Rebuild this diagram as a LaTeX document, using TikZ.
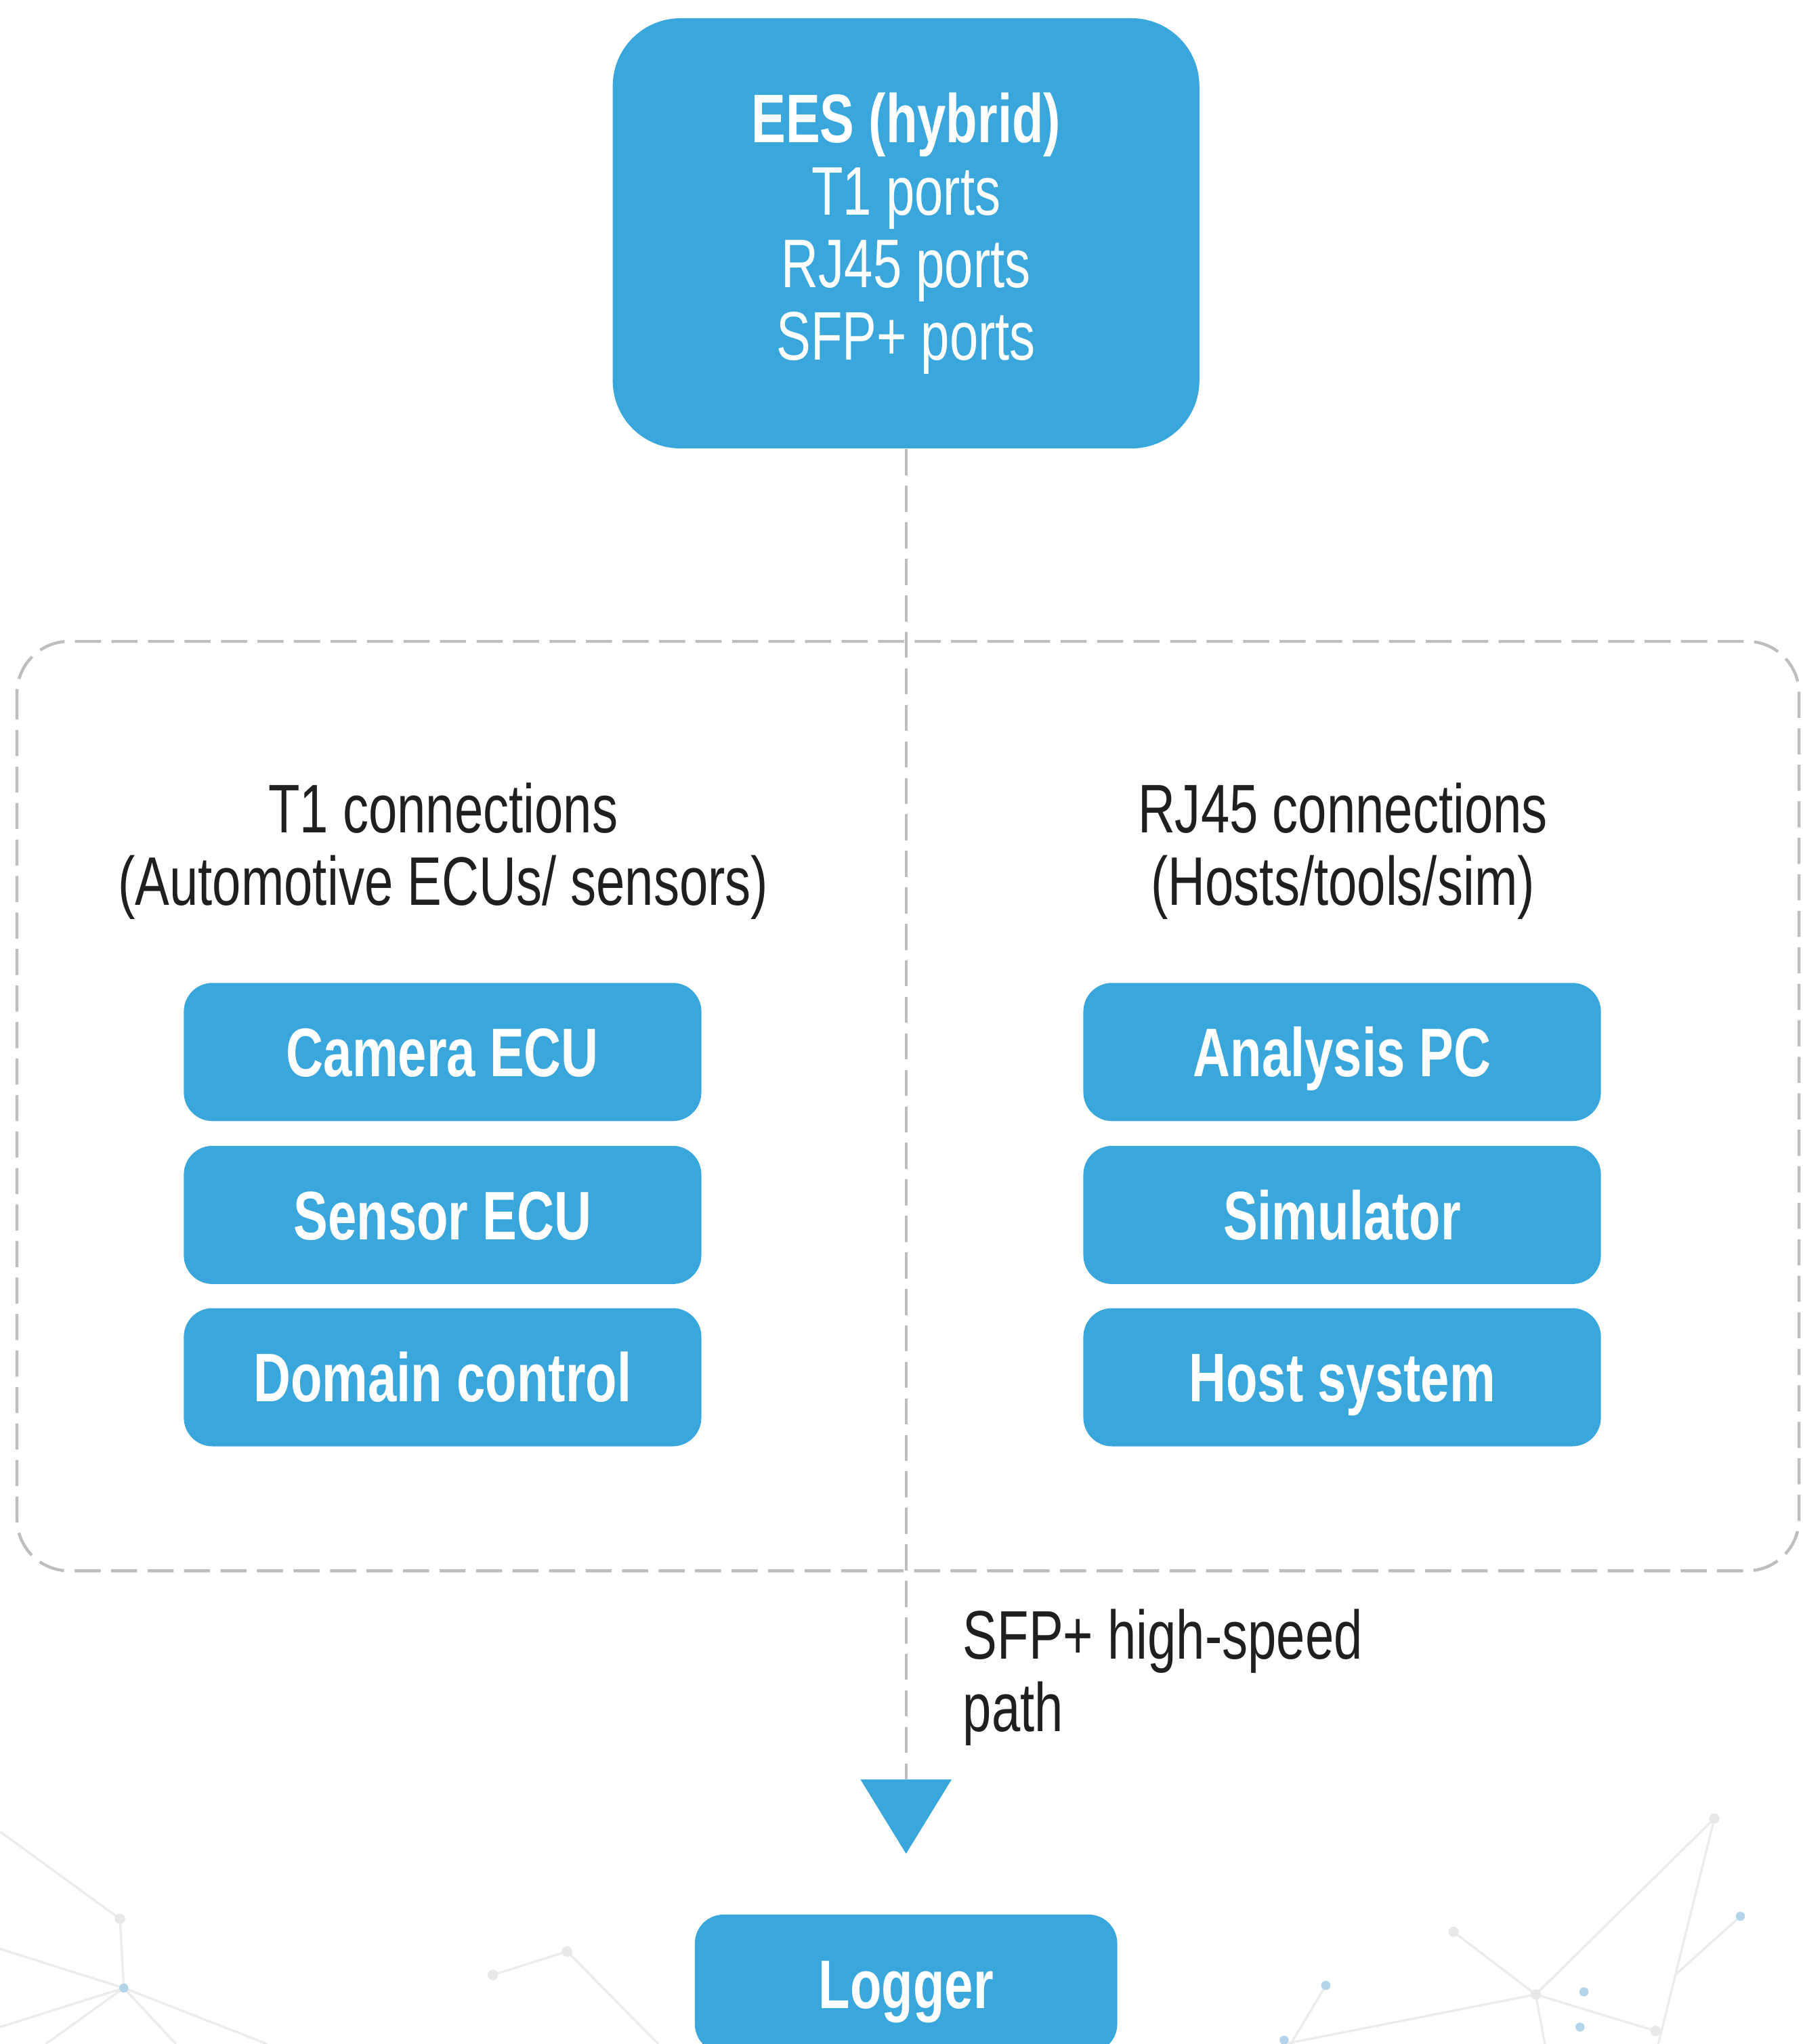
\documentclass[tikz,border=0pt]{standalone}
\usepackage{fontspec}
\setmainfont{Liberation Sans}[FakeStretch=0.75]
\usetikzlibrary{arrows.meta}
\definecolor{eesblue}{RGB}{58,167,220}
\definecolor{framegray}{RGB}{190,190,190}
\definecolor{netgray}{RGB}{234,236,238}
\definecolor{netblue}{RGB}{180,212,234}

\begin{document}
\begin{tikzpicture}[
		blue box/.style={fill=eesblue, rounded corners=0.22cm, text=white},
		box/.style={blue box, minimum width=3.97cm, minimum height=1.06cm,
			text height=10.7pt, text depth=0pt, font=\fontsize{15}{15.8}\selectfont\bfseries},
		headtext/.style={align=center, text=black!88, font=\fontsize{15}{15.8}\selectfont},
		dashline/.style={draw=framegray, line width=0.65pt, dash pattern=on 0.2cm off 0.08cm}]
				\useasboundingbox (0,0) rectangle (13.83,-15.68);
				% faint network in the lower corners
				\begin{scope}[draw=netgray, line width=0.5pt]
				\draw (0,-14.05) -- (0.92,-14.72) -- (0.95,-15.25);
				\draw (0,-14.95) -- (0.95,-15.25) -- (1.35,-15.68);
				\draw (0.95,-15.25) -- (0.35,-15.68) (0.95,-15.25) -- (2.05,-15.68) (0.95,-15.25) -- (0,-15.55);
				\draw (3.78,-15.15) -- (4.35,-14.97) -- (5.05,-15.68);
				\draw (13.15,-13.95) -- (11.78,-15.30) -- (11.15,-14.82);
				\draw (13.15,-13.95) -- (12.72,-15.68);
				\draw (13.35,-14.70) -- (12.85,-15.15);
				\draw (11.78,-15.30) -- (9.85,-15.68) (11.78,-15.30) -- (12.70,-15.58) (11.78,-15.30) -- (11.85,-15.68);
				\draw (10.17,-15.23) -- (9.90,-15.68);
				\end{scope}
				\foreach \p in {(0.92,-14.72),(4.35,-14.97),(3.78,-15.15),(13.15,-13.95),(11.15,-14.82),(11.78,-15.30),(12.70,-15.58)}
					\fill[netgray!80!black!35] \p circle (0.04);
				\foreach \p in {(0.95,-15.25),(13.35,-14.70),(10.17,-15.23),(12.15,-15.28),(12.12,-15.55),(9.85,-15.65)}
					\fill[netblue] \p circle (0.035);
				% switch and the two groups of ports
				\node[blue box, rounded corners=0.52cm, minimum width=4.5cm, minimum height=3.3cm, align=center,
					font=\fontsize{15}{15.8}\selectfont] (ees) at (6.95,-1.79)
					{\textbf{EES (hybrid)}\\T1 ports\\RJ45 ports\\SFP+ ports};
				\draw[dashline, rounded corners=0.4cm] (0.13,-4.92) rectangle (13.80,-12.05);
				\node[headtext] (t1head) at (3.40,-6.53) {T1 connections\\(Automotive ECUs/ sensors)};
				\node[headtext] (rjhead) at (10.30,-6.53) {RJ45 connections\\(Hosts/tools/sim)};
				\node[box] (camera) at (3.395,-8.07) {Camera ECU};
				\node[box] (sensor) at (3.395,-9.32) {Sensor ECU};
				\node[box] (domain) at (3.395,-10.565) {Domain control};
				\node[box] (analysis) at (10.295,-8.07) {Analysis PC};
				\node[box] (simulator) at (10.295,-9.32) {Simulator};
				\node[box] (host) at (10.295,-10.565) {Host system};
				% high-speed path down to the logger
				\node[box, minimum width=3.24cm, anchor=north] (logger) at (6.95,-14.68) {Logger};
				\draw[dashline, -{Triangle[width=0.7cm, length=0.57cm, color=eesblue, line width=0pt]}]
					(ees.south) -- ([yshift=0.46cm]logger.north);
				\node[headtext, align=left, anchor=west, inner sep=0pt] (sfp) at (7.38,-12.87) {SFP+ high-speed\\path};
			\end{tikzpicture}
\end{document}
